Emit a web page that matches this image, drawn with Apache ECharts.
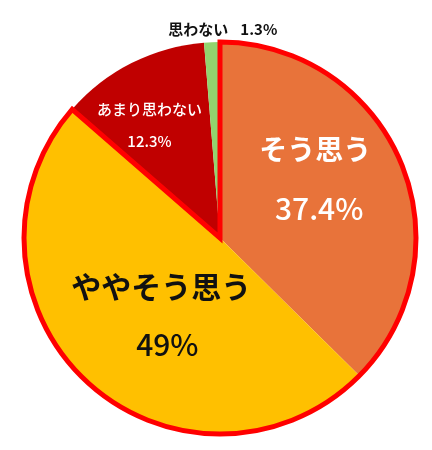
<!DOCTYPE html>
<html>
<head>
<meta charset="utf-8">
<script src="https://cdn.jsdelivr.net/npm/echarts@6/dist/echarts.min.js"></script>
<style>
html,body{margin:0;padding:0;background:#fff;}
#c{width:432px;height:450px;}
</style>
</head>
<body>
<div id="c"></div>
<script>
var categories = ['そう思う', 'ややそう思う', 'あまり思わない', '思わない'];
var values = [37.4, 49, 12.3, 1.3];
var valueLabels = ['37.4%', '49%', '12.3%', '1.3%'];
var colors = ['#E8733A', '#FFC000', '#C00000', '#92D36E'];
var outlineGroups = ['positive', 'other'];

var chart = echarts.init(document.getElementById('c'));
var FONT = '"Noto Sans CJK JP", "Noto Sans", sans-serif';

var labelStyles = [
  { offset: [2, -20], formatter: '{a|{b}}\n{n|' + valueLabels[0] + '}',
    rich: { a: { color: '#fff', fontSize: 28, fontWeight: 'bold', lineHeight: 60, fontFamily: FONT },
            n: { color: '#fff', fontSize: 30, fontWeight: 500, lineHeight: 60, fontFamily: FONT, padding: [0, 0, 0, 8] } } },
  { offset: [10, 4], formatter: '{a|{b}}\n{n|' + valueLabels[1] + '}',
    rich: { a: { color: '#111', fontSize: 30, fontWeight: 'bold', lineHeight: 58, fontFamily: FONT },
            n: { color: '#111', fontSize: 30, fontWeight: 500, lineHeight: 58, fontFamily: FONT, padding: [0, 0, 0, 12] } } },
  { offset: [-25, -23], formatter: '{a|{b}}\n{a|' + valueLabels[2] + '}',
    rich: { a: { color: '#fff', fontSize: 15, fontWeight: 500, lineHeight: 32, fontFamily: FONT } } },
  { offset: [7, -108], formatter: '{a|{b}}　{a|' + valueLabels[3] + '}',
    rich: { a: { color: '#111', fontSize: 15, fontWeight: 'bold', lineHeight: 20, fontFamily: FONT } } }
];

var mainData = categories.map(function (c, i) {
  var ls = labelStyles[i];
  return {
    name: c,
    value: values[i],
    itemStyle: { color: colors[i] },
    label: { show: true, position: 'inside', offset: ls.offset, formatter: ls.formatter, rich: ls.rich }
  };
});

var positiveSum = values[0] + values[1];
var otherSum = values[2] + values[3];
var outlineData = [
  { name: outlineGroups[0], value: positiveSum, itemStyle: { color: 'rgba(0,0,0,0)', borderColor: '#FF0000', borderWidth: 5, borderJoin: 'miter' } },
  { name: outlineGroups[1], value: otherSum, itemStyle: { color: 'rgba(0,0,0,0)', borderWidth: 0 } }
];

chart.setOption({
  animation: false,
  series: [
    {
      type: 'pie',
      center: [220, 238],
      radius: [0, 196],
      startAngle: 90,
      clockwise: true,
      avoidLabelOverlap: false,
      labelLine: { show: false },
      itemStyle: { borderWidth: 0 },
      emphasis: { disabled: true },
      data: mainData,
      z: 1
    },
    {
      type: 'pie',
      center: [220, 238],
      radius: [0, 196],
      startAngle: 90,
      clockwise: true,
      silent: true,
      label: { show: false },
      labelLine: { show: false },
      emphasis: { disabled: true },
      data: outlineData,
      z: 3
    }
  ]
});
</script>
</body>
</html>
